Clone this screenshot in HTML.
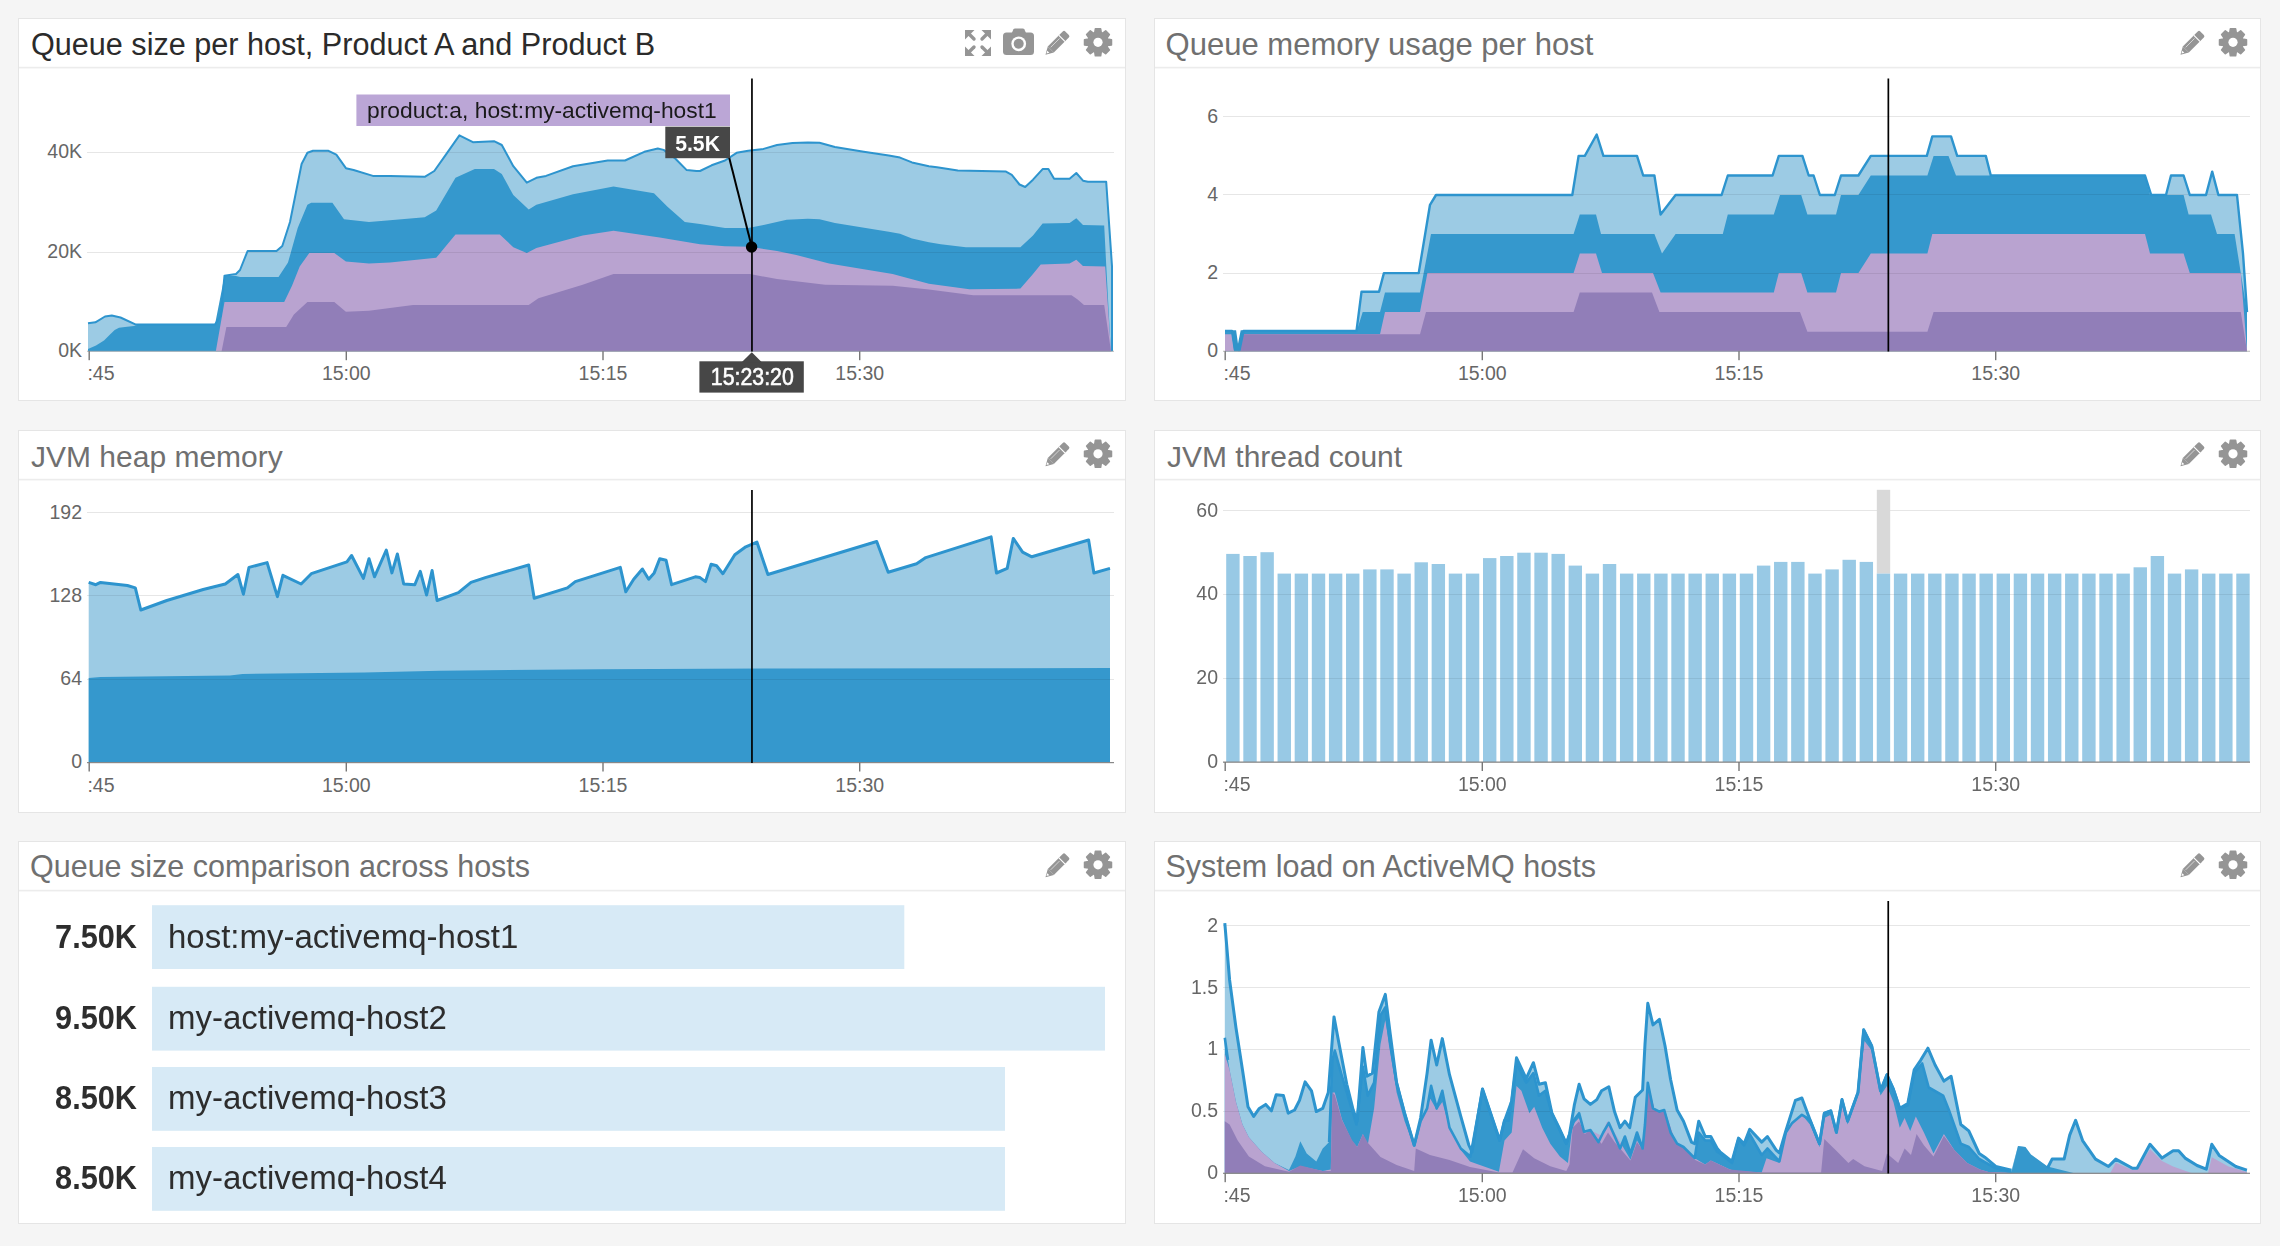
<!DOCTYPE html><html><head><meta charset="utf-8"><title>Dashboard</title><style>html,body{margin:0;padding:0;background:#f5f5f5}body{width:2280px;height:1246px;overflow:hidden;position:relative}svg{position:absolute;left:0;top:0;display:block}text{font-family:"Liberation Sans", sans-serif}</style></head><body>
<svg width="2280" height="1246" viewBox="0 0 2280 1246">
<defs>
<g id="gear"><path d="M-3.26,-9.46 L-2.61,-13.45 L2.61,-13.45 L3.26,-9.46 L4.38,-8.99 L7.66,-11.36 L11.36,-7.66 L8.99,-4.38 L9.46,-3.26 L13.45,-2.61 L13.45,2.61 L9.46,3.26 L8.99,4.38 L11.36,7.66 L7.66,11.36 L4.38,8.99 L3.26,9.46 L2.61,13.45 L-2.61,13.45 L-3.26,9.46 L-4.38,8.99 L-7.66,11.36 L-11.36,7.66 L-8.99,4.38 L-9.46,3.26 L-13.45,2.61 L-13.45,-2.61 L-9.46,-3.26 L-8.99,-4.38 L-11.36,-7.66 L-7.66,-11.36 L-4.38,-8.99 Z" fill="#959595" stroke="#959595" stroke-width="1.6" stroke-linejoin="round"/><circle cx="0" cy="0" r="10.6" fill="#959595"/><circle cx="0" cy="0" r="4.6" fill="#fff"/></g>
<g id="pencil"><g transform="rotate(-45)"><polygon points="0,0 7.5,-4.3 7.5,4.3" fill="#959595"/><rect x="7.5" y="-4.3" width="15.5" height="8.6" fill="#959595"/><rect x="24" y="-4.3" width="6.5" height="8.6" rx="1.8" fill="#959595"/><rect x="22.5" y="-4.3" width="3" height="8.6" fill="#959595"/><line x1="23.2" y1="-4.6" x2="23.2" y2="4.6" stroke="#fff" stroke-width="1.1"/><line x1="9" y1="-1.6" x2="21.5" y2="-1.6" stroke="#fff" stroke-width="0.7" opacity="0.8"/><polygon points="1.6,-0.2 4.2,-1.7 4.2,1.2" fill="#fff"/></g></g>
<g id="camera"><path d="M8.6,5 L10.3,1.2 Q10.8,0.1 12.2,0.1 L19.6,0.1 Q21,0.1 21.5,1.2 L23.2,5 Z" fill="#959595"/><rect x="0" y="4" width="31" height="22.6" rx="3.5" fill="#959595"/><circle cx="15.7" cy="15.4" r="7.4" fill="#fff"/><circle cx="15.7" cy="15.4" r="5" fill="#959595"/></g>
<g id="expand"><polygon points="0,0 9.5,0 0,9.5" fill="#959595"/><line x1="4" y1="4" x2="9" y2="9" stroke="#959595" stroke-width="3.4" stroke-linecap="round"/><polygon points="26,0 16.5,0 26,9.5" fill="#959595"/><line x1="22" y1="4" x2="17" y2="9" stroke="#959595" stroke-width="3.4" stroke-linecap="round"/><polygon points="0,26 9.5,26 0,16.5" fill="#959595"/><line x1="4" y1="22" x2="9" y2="17" stroke="#959595" stroke-width="3.4" stroke-linecap="round"/><polygon points="26,26 16.5,26 26,16.5" fill="#959595"/><line x1="22" y1="22" x2="17" y2="17" stroke="#959595" stroke-width="3.4" stroke-linecap="round"/></g>
</defs>
<rect x="18.5" y="18.5" width="1107" height="382" fill="#fff" stroke="#e5e5e5" stroke-width="1"/>
<rect x="19" y="66.8" width="1106" height="1.6" fill="#ececec"/>
<text x="31" y="55" font-size="30.6" fill="#2b2b2b">Queue size per host, Product A and Product B</text>
<rect x="1154.5" y="18.5" width="1106" height="382" fill="#fff" stroke="#e5e5e5" stroke-width="1"/>
<rect x="1155" y="66.8" width="1105" height="1.6" fill="#ececec"/>
<text x="1165.5" y="55" font-size="31.05" fill="#707070">Queue memory usage per host</text>
<rect x="18.5" y="430.5" width="1107" height="382" fill="#fff" stroke="#e5e5e5" stroke-width="1"/>
<rect x="19" y="478.8" width="1106" height="1.6" fill="#ececec"/>
<text x="31" y="466.5" font-size="30.0" fill="#707070">JVM heap memory</text>
<rect x="1154.5" y="430.5" width="1106" height="382" fill="#fff" stroke="#e5e5e5" stroke-width="1"/>
<rect x="1155" y="478.8" width="1105" height="1.6" fill="#ececec"/>
<text x="1167" y="466.5" font-size="30.0" fill="#707070">JVM thread count</text>
<rect x="18.5" y="841.5" width="1107" height="382" fill="#fff" stroke="#e5e5e5" stroke-width="1"/>
<rect x="19" y="889.8" width="1106" height="1.6" fill="#ececec"/>
<text x="30" y="877.2" font-size="30.5" fill="#707070">Queue size comparison across hosts</text>
<rect x="1154.5" y="841.5" width="1106" height="382" fill="#fff" stroke="#e5e5e5" stroke-width="1"/>
<rect x="1155" y="889.8" width="1105" height="1.6" fill="#ececec"/>
<text x="1165.5" y="877.2" font-size="30.5" fill="#707070">System load on ActiveMQ hosts</text>
<use href="#expand" x="965" y="30"/><use href="#camera" x="1003" y="28.4"/><use href="#pencil" x="1045.5" y="54.8"/><use href="#gear" x="1098" y="42.3"/>
<use href="#pencil" x="2180.5" y="54.8"/><use href="#gear" x="2233" y="42.3"/>
<use href="#pencil" x="1045.5" y="466.3"/><use href="#gear" x="1098" y="453.8"/>
<use href="#pencil" x="2180.5" y="466.3"/><use href="#gear" x="2233" y="453.8"/>
<use href="#pencil" x="1045.5" y="877.3"/><use href="#gear" x="1098" y="864.8"/>
<use href="#pencil" x="2180.5" y="877.3"/><use href="#gear" x="2233" y="864.8"/>
<rect x="87" y="152" width="1027" height="1" fill="#e6e6e6"/><rect x="87" y="252" width="1027" height="1" fill="#e6e6e6"/>
<polygon points="88.0,323.3 95.4,322.3 105.0,316.5 111.8,315.6 120.5,317.5 135.9,324.6 214.9,324.6 220.7,316.0 224.5,275.7 236.0,274.0 240.0,270.0 247.6,251.0 276.5,251.0 282.3,246.0 290.0,222.0 295.8,193.0 301.6,164.0 307.4,152.8 313.0,150.8 328.5,150.8 336.3,154.7 345.9,168.2 353.6,170.0 372.9,175.9 390.0,175.9 424.7,176.8 434.3,171.0 445.9,154.7 459.4,135.4 472.9,142.2 494.0,141.2 501.8,145.0 513.3,166.2 526.8,182.6 536.4,177.8 546.0,175.9 573.0,166.2 607.7,160.5 625.0,160.5 644.3,151.8 657.8,148.5 663.6,149.9 675.2,158.5 686.7,170.1 696.4,171.0 700.0,171.0 711.6,165.3 725.0,160.5 736.6,152.8 748.2,150.8 763.6,148.9 777.0,145.0 792.5,143.1 807.9,142.5 819.5,142.7 834.9,147.0 863.8,151.8 888.8,155.6 900.0,157.6 912.0,162.4 928.9,166.2 937.0,167.2 957.8,170.5 1006.0,171.6 1011.8,174.9 1019.5,184.5 1025.2,187.0 1033.0,179.7 1042.6,169.1 1048.4,169.1 1054.1,178.8 1069.6,178.8 1076.3,173.0 1083.0,180.7 1087.9,181.7 1106.2,181.7 1112.0,266.4 1112.0,351.2 1112.0,351.2 88.0,351.2" fill="#9ccbe4" />
<polygon points="88.0,349.0 96.0,345.5 104.0,340.5 110.0,334.5 114.7,330.0 119.0,327.8 125.0,327.0 134.0,326.0 137.0,325.0 214.9,325.0 224.5,276.0 236.0,276.0 240.0,277.0 278.5,277.0 288.0,262.6 297.7,228.0 307.4,204.8 311.2,202.8 332.4,202.8 344.0,219.2 369.0,222.0 390.0,220.2 424.7,217.3 436.2,210.6 455.5,177.8 474.8,169.1 494.0,169.1 501.8,174.0 513.3,195.1 528.7,209.6 536.4,204.8 573.0,194.2 613.5,186.5 654.0,193.2 667.5,206.7 684.8,222.1 700.0,224.0 725.0,227.9 748.2,227.9 763.6,225.0 786.7,219.8 807.9,218.7 819.5,219.2 834.9,223.1 888.8,231.8 900.0,233.7 912.0,238.5 928.9,242.3 940.8,244.3 965.9,247.2 1020.4,247.2 1033.0,235.6 1042.6,223.5 1069.6,223.1 1076.3,218.3 1083.0,225.0 1104.2,225.6 1106.3,266.4 1110.8,351.2 1110.8,351.2 88.0,351.2" fill="#3598cd" />
<polygon points="88.0,351.2 215.8,351.2 224.5,302.0 284.2,302.0 292.0,285.7 299.7,266.4 309.3,253.0 334.3,253.0 345.9,261.6 369.0,263.5 390.0,262.6 436.2,257.8 455.5,234.6 499.8,234.6 513.3,247.2 526.8,253.0 536.4,248.1 582.7,235.6 613.5,230.8 659.7,237.5 700.0,244.3 725.0,246.2 750.0,246.8 777.0,251.0 796.3,254.9 829.1,263.5 863.8,269.3 892.7,274.1 900.0,276.0 928.9,283.8 969.4,289.2 1020.4,288.6 1033.0,274.1 1040.7,264.5 1069.6,263.5 1076.3,259.7 1083.0,266.0 1105.2,266.4 1111.0,351.2 1111.0,351.2 88.0,351.2" fill="#b9a3d0" />
<polygon points="88.0,351.2 221.6,351.2 226.4,327.0 286.2,327.0 293.9,314.6 307.4,302.0 334.3,302.0 345.9,311.7 369.0,310.7 390.0,307.9 413.1,305.0 528.7,305.0 538.4,298.2 582.7,284.7 613.5,274.1 750.0,274.1 777.0,279.0 825.2,284.7 892.7,285.7 928.9,289.6 973.2,295.3 1071.5,295.3 1077.3,299.2 1084.0,305.0 1104.2,305.0 1111.0,351.2 1111.0,351.2 88.0,351.2" fill="#917eb8" />
<clipPath id="c1"><polygon points="88.0,323.3 95.4,322.3 105.0,316.5 111.8,315.6 120.5,317.5 135.9,324.6 214.9,324.6 220.7,316.0 224.5,275.7 236.0,274.0 240.0,270.0 247.6,251.0 276.5,251.0 282.3,246.0 290.0,222.0 295.8,193.0 301.6,164.0 307.4,152.8 313.0,150.8 328.5,150.8 336.3,154.7 345.9,168.2 353.6,170.0 372.9,175.9 390.0,175.9 424.7,176.8 434.3,171.0 445.9,154.7 459.4,135.4 472.9,142.2 494.0,141.2 501.8,145.0 513.3,166.2 526.8,182.6 536.4,177.8 546.0,175.9 573.0,166.2 607.7,160.5 625.0,160.5 644.3,151.8 657.8,148.5 663.6,149.9 675.2,158.5 686.7,170.1 696.4,171.0 700.0,171.0 711.6,165.3 725.0,160.5 736.6,152.8 748.2,150.8 763.6,148.9 777.0,145.0 792.5,143.1 807.9,142.5 819.5,142.7 834.9,147.0 863.8,151.8 888.8,155.6 900.0,157.6 912.0,162.4 928.9,166.2 937.0,167.2 957.8,170.5 1006.0,171.6 1011.8,174.9 1019.5,184.5 1025.2,187.0 1033.0,179.7 1042.6,169.1 1048.4,169.1 1054.1,178.8 1069.6,178.8 1076.3,173.0 1083.0,180.7 1087.9,181.7 1106.2,181.7 1112.0,266.4 1112.0,351.2 1112.0,351.2 88.0,351.2"/></clipPath>
<g clip-path="url(#c1)"><rect x="88" y="152" width="1025" height="1" fill="#000" opacity="0.075"/><rect x="88" y="252" width="1025" height="1" fill="#000" opacity="0.075"/></g>
<polyline points="88.0,323.3 95.4,322.3 105.0,316.5 111.8,315.6 120.5,317.5 135.9,324.6 214.9,324.6 220.7,316.0 224.5,275.7 236.0,274.0 240.0,270.0 247.6,251.0 276.5,251.0 282.3,246.0 290.0,222.0 295.8,193.0 301.6,164.0 307.4,152.8 313.0,150.8 328.5,150.8 336.3,154.7 345.9,168.2 353.6,170.0 372.9,175.9 390.0,175.9 424.7,176.8 434.3,171.0 445.9,154.7 459.4,135.4 472.9,142.2 494.0,141.2 501.8,145.0 513.3,166.2 526.8,182.6 536.4,177.8 546.0,175.9 573.0,166.2 607.7,160.5 625.0,160.5 644.3,151.8 657.8,148.5 663.6,149.9 675.2,158.5 686.7,170.1 696.4,171.0 700.0,171.0 711.6,165.3 725.0,160.5 736.6,152.8 748.2,150.8 763.6,148.9 777.0,145.0 792.5,143.1 807.9,142.5 819.5,142.7 834.9,147.0 863.8,151.8 888.8,155.6 900.0,157.6 912.0,162.4 928.9,166.2 937.0,167.2 957.8,170.5 1006.0,171.6 1011.8,174.9 1019.5,184.5 1025.2,187.0 1033.0,179.7 1042.6,169.1 1048.4,169.1 1054.1,178.8 1069.6,178.8 1076.3,173.0 1083.0,180.7 1087.9,181.7 1106.2,181.7 1112.0,266.4 1112.0,351.2" fill="none" stroke="#2d94ce" stroke-width="2" stroke-linejoin="round"/>
<rect x="87" y="350.7" width="1027" height="1.2" fill="#999" opacity="0.6"/>
<text x="82" y="158.4" font-size="19.5" fill="#666666" text-anchor="end">40K</text><text x="82" y="257.9" font-size="19.5" fill="#666666" text-anchor="end">20K</text><text x="82" y="357.1" font-size="19.5" fill="#666666" text-anchor="end">0K</text>
<rect x="88.5" y="351.2" width="1.4" height="9" fill="#777"/><text x="87.4" y="380.2" font-size="19.5" fill="#666666">:45</text><rect x="345.6" y="351.2" width="1.4" height="9" fill="#777"/><text x="346.3" y="380.2" font-size="19.5" fill="#666666" text-anchor="middle">15:00</text><rect x="602.3" y="351.2" width="1.4" height="9" fill="#777"/><text x="603.0" y="380.2" font-size="19.5" fill="#666666" text-anchor="middle">15:15</text><rect x="859.0" y="351.2" width="1.4" height="9" fill="#777"/><text x="859.7" y="380.2" font-size="19.5" fill="#666666" text-anchor="middle">15:30</text>
<rect x="1223" y="273" width="1027" height="1" fill="#e6e6e6"/><rect x="1223" y="194" width="1027" height="1" fill="#e6e6e6"/><rect x="1223" y="116" width="1027" height="1" fill="#e6e6e6"/>
<polygon points="1225.0,330.9 1232.0,330.9 1235.0,350.0 1239.5,350.0 1243.5,330.9 1356.5,330.9 1361.5,291.8 1379.0,291.8 1383.9,273.1 1418.7,273.1 1430.0,204.8 1436.0,195.0 1572.3,195.0 1578.6,155.9 1584.8,155.9 1596.7,134.5 1603.4,155.9 1637.0,155.9 1643.2,175.5 1654.4,175.5 1660.6,214.5 1675.6,195.0 1721.6,195.0 1727.8,175.5 1772.6,175.5 1778.8,155.9 1802.4,155.9 1808.7,175.5 1813.6,175.5 1819.9,195.0 1834.8,195.0 1841.0,175.5 1858.4,175.5 1870.8,155.9 1926.8,155.9 1932.3,136.4 1951.0,136.4 1957.2,155.9 1985.8,155.9 1990.8,175.5 2145.0,175.5 2151.2,195.0 2166.0,195.0 2171.0,175.5 2183.6,175.5 2189.8,195.0 2206.0,195.0 2212.2,171.6 2218.4,195.0 2237.0,195.0 2243.0,253.6 2247.0,312.1 2247.0,351.2 1225.0,351.2" fill="#9ccbe4" />
<polygon points="1225.0,331.7 1232.0,331.7 1234.5,351.2 1240.0,351.2 1243.5,331.7 1356.5,331.7 1362.7,312.1 1380.0,312.1 1385.0,292.6 1420.0,292.6 1431.0,234.1 1573.6,234.1 1579.8,214.5 1596.0,214.5 1601.0,234.1 1654.4,234.1 1662.0,253.6 1675.6,234.1 1722.8,234.1 1727.8,214.5 1773.8,214.5 1780.0,195.0 1801.2,195.0 1807.4,214.5 1836.0,214.5 1841.0,195.0 1858.4,195.0 1870.8,175.5 1927.4,175.5 1933.6,155.9 1948.5,155.9 1956.0,175.5 2145.0,175.5 2150.0,195.0 2183.6,195.0 2188.6,214.5 2211.0,214.5 2217.0,234.1 2234.6,234.1 2247.0,312.1 2247.0,351.2 1225.0,351.2" fill="#3598cd" />
<polygon points="1225.0,334.2 1232.0,334.2 1234.5,351.2 1240.0,351.2 1243.0,334.2 1380.0,334.2 1385.0,312.1 1420.0,312.1 1427.4,273.1 1573.6,273.1 1579.8,253.6 1596.0,253.6 1602.0,273.1 1653.0,273.1 1660.6,292.6 1773.8,292.6 1778.8,273.1 1801.2,273.1 1807.4,292.6 1836.0,292.6 1841.0,273.1 1858.4,273.1 1870.8,253.6 1927.4,253.6 1932.3,234.1 2145.0,234.1 2150.0,253.6 2183.6,253.6 2189.8,273.1 2240.8,273.1 2247.0,351.2 2247.0,351.2 1225.0,351.2" fill="#b9a3d0" />
<polygon points="1225.0,351.2 1236.0,351.2 1238.0,351.2 1243.0,334.2 1420.0,334.2 1426.0,312.1 1573.6,312.1 1579.8,292.6 1652.0,292.6 1659.4,312.1 1800.0,312.1 1807.4,331.7 1927.4,331.7 1933.6,312.1 2240.8,312.1 2247.0,351.2 2247.0,351.2 1225.0,351.2" fill="#917eb8" />
<clipPath id="c2"><polygon points="1225.0,330.9 1232.0,330.9 1235.0,350.0 1239.5,350.0 1243.5,330.9 1356.5,330.9 1361.5,291.8 1379.0,291.8 1383.9,273.1 1418.7,273.1 1430.0,204.8 1436.0,195.0 1572.3,195.0 1578.6,155.9 1584.8,155.9 1596.7,134.5 1603.4,155.9 1637.0,155.9 1643.2,175.5 1654.4,175.5 1660.6,214.5 1675.6,195.0 1721.6,195.0 1727.8,175.5 1772.6,175.5 1778.8,155.9 1802.4,155.9 1808.7,175.5 1813.6,175.5 1819.9,195.0 1834.8,195.0 1841.0,175.5 1858.4,175.5 1870.8,155.9 1926.8,155.9 1932.3,136.4 1951.0,136.4 1957.2,155.9 1985.8,155.9 1990.8,175.5 2145.0,175.5 2151.2,195.0 2166.0,195.0 2171.0,175.5 2183.6,175.5 2189.8,195.0 2206.0,195.0 2212.2,171.6 2218.4,195.0 2237.0,195.0 2243.0,253.6 2247.0,312.1 2247.0,351.2 1225.0,351.2"/></clipPath>
<g clip-path="url(#c2)"><rect x="1224" y="273" width="1025" height="1" fill="#000" opacity="0.075"/><rect x="1224" y="194" width="1025" height="1" fill="#000" opacity="0.075"/><rect x="1224" y="116" width="1025" height="1" fill="#000" opacity="0.075"/></g>
<polyline points="1225.0,330.9 1232.0,330.9 1235.0,350.0 1239.5,350.0 1243.5,330.9 1356.5,330.9 1361.5,291.8 1379.0,291.8 1383.9,273.1 1418.7,273.1 1430.0,204.8 1436.0,195.0 1572.3,195.0 1578.6,155.9 1584.8,155.9 1596.7,134.5 1603.4,155.9 1637.0,155.9 1643.2,175.5 1654.4,175.5 1660.6,214.5 1675.6,195.0 1721.6,195.0 1727.8,175.5 1772.6,175.5 1778.8,155.9 1802.4,155.9 1808.7,175.5 1813.6,175.5 1819.9,195.0 1834.8,195.0 1841.0,175.5 1858.4,175.5 1870.8,155.9 1926.8,155.9 1932.3,136.4 1951.0,136.4 1957.2,155.9 1985.8,155.9 1990.8,175.5 2145.0,175.5 2151.2,195.0 2166.0,195.0 2171.0,175.5 2183.6,175.5 2189.8,195.0 2206.0,195.0 2212.2,171.6 2218.4,195.0 2237.0,195.0 2243.0,253.6 2247.0,312.1" fill="none" stroke="#2d94ce" stroke-width="2.4" stroke-linejoin="round"/>
<rect x="1235.5" y="328" width="6" height="4" fill="#fff"/>
<path d="M1231.5,330.2 L1243.3,330.2 L1240.1,351.2 L1234.1,351.2 Z M1236.1,330.2 L1238,343.8 L1240.7,330.2 Z" fill="#2f94ca" fill-rule="evenodd"/>
<rect x="1223" y="350.7" width="1027" height="1.2" fill="#999" opacity="0.6"/>
<text x="1218" y="122.8" font-size="19.5" fill="#666666" text-anchor="end">6</text><text x="1218" y="200.9" font-size="19.5" fill="#666666" text-anchor="end">4</text><text x="1218" y="279.0" font-size="19.5" fill="#666666" text-anchor="end">2</text><text x="1218" y="357.1" font-size="19.5" fill="#666666" text-anchor="end">0</text>
<rect x="1224.5" y="351.2" width="1.4" height="9" fill="#777"/><text x="1223.4" y="380.2" font-size="19.5" fill="#666666">:45</text><rect x="1481.6" y="351.2" width="1.4" height="9" fill="#777"/><text x="1482.3" y="380.2" font-size="19.5" fill="#666666" text-anchor="middle">15:00</text><rect x="1738.3" y="351.2" width="1.4" height="9" fill="#777"/><text x="1739.0" y="380.2" font-size="19.5" fill="#666666" text-anchor="middle">15:15</text><rect x="1995.0" y="351.2" width="1.4" height="9" fill="#777"/><text x="1995.7" y="380.2" font-size="19.5" fill="#666666" text-anchor="middle">15:30</text>
<rect x="87" y="679" width="1027" height="1" fill="#e6e6e6"/><rect x="87" y="595" width="1027" height="1" fill="#e6e6e6"/><rect x="87" y="512" width="1027" height="1" fill="#e6e6e6"/>
<polygon points="88.7,582.4 95.8,584.7 100.5,582.4 127.4,585.5 135.3,587.9 140.8,610.0 166.8,600.5 203.2,589.5 225.3,584.0 237.9,574.5 243.4,594.2 249.0,567.4 267.1,562.6 277.4,596.6 282.9,575.3 301.1,584.0 311.3,573.7 346.9,561.8 351.6,555.5 363.4,578.4 369.0,558.7 374.5,576.8 386.3,550.0 391.9,572.9 397.4,554.0 403.7,584.0 414.8,584.7 420.3,571.3 426.6,595.0 432.1,570.5 437.1,600.5 458.4,592.6 471.0,582.4 485.3,577.6 528.7,565.0 534.2,598.2 567.4,587.9 575.3,581.6 620.3,567.4 625.8,591.8 633.7,579.2 642.4,569.0 648.7,579.2 654.2,572.9 659.7,558.7 666.1,560.3 671.6,584.7 695.3,576.8 700.0,577.6 705.5,581.6 711.1,564.2 716.6,565.8 722.9,573.7 734.8,554.7 745.8,546.8 756.9,542.1 767.9,574.5 876.7,541.5 888.2,572.2 916.6,563.8 925.8,557.6 991.1,536.9 996.5,573.0 1007.2,568.4 1013.3,538.4 1022.6,552.2 1031.8,556.8 1088.6,540.0 1093.9,573.0 1110.0,568.4 1110.0,762.5 88.7,762.5" fill="#9ccbe4" />
<polygon points="88.7,677.9 100.5,677.1 230.0,675.5 242.6,674.0 364.2,672.4 440.0,670.8 600.0,669.2 790.0,668.4 1110.0,668.1 1110.0,762.5 88.7,762.5" fill="#3598cd" />
<clipPath id="c3"><polygon points="88.7,582.4 95.8,584.7 100.5,582.4 127.4,585.5 135.3,587.9 140.8,610.0 166.8,600.5 203.2,589.5 225.3,584.0 237.9,574.5 243.4,594.2 249.0,567.4 267.1,562.6 277.4,596.6 282.9,575.3 301.1,584.0 311.3,573.7 346.9,561.8 351.6,555.5 363.4,578.4 369.0,558.7 374.5,576.8 386.3,550.0 391.9,572.9 397.4,554.0 403.7,584.0 414.8,584.7 420.3,571.3 426.6,595.0 432.1,570.5 437.1,600.5 458.4,592.6 471.0,582.4 485.3,577.6 528.7,565.0 534.2,598.2 567.4,587.9 575.3,581.6 620.3,567.4 625.8,591.8 633.7,579.2 642.4,569.0 648.7,579.2 654.2,572.9 659.7,558.7 666.1,560.3 671.6,584.7 695.3,576.8 700.0,577.6 705.5,581.6 711.1,564.2 716.6,565.8 722.9,573.7 734.8,554.7 745.8,546.8 756.9,542.1 767.9,574.5 876.7,541.5 888.2,572.2 916.6,563.8 925.8,557.6 991.1,536.9 996.5,573.0 1007.2,568.4 1013.3,538.4 1022.6,552.2 1031.8,556.8 1088.6,540.0 1093.9,573.0 1110.0,568.4 1110.0,762.5 88.7,762.5"/></clipPath>
<g clip-path="url(#c3)"><rect x="88" y="679" width="1025" height="1" fill="#000" opacity="0.075"/><rect x="88" y="595" width="1025" height="1" fill="#000" opacity="0.075"/><rect x="88" y="512" width="1025" height="1" fill="#000" opacity="0.075"/></g>
<polyline points="88.7,582.4 95.8,584.7 100.5,582.4 127.4,585.5 135.3,587.9 140.8,610.0 166.8,600.5 203.2,589.5 225.3,584.0 237.9,574.5 243.4,594.2 249.0,567.4 267.1,562.6 277.4,596.6 282.9,575.3 301.1,584.0 311.3,573.7 346.9,561.8 351.6,555.5 363.4,578.4 369.0,558.7 374.5,576.8 386.3,550.0 391.9,572.9 397.4,554.0 403.7,584.0 414.8,584.7 420.3,571.3 426.6,595.0 432.1,570.5 437.1,600.5 458.4,592.6 471.0,582.4 485.3,577.6 528.7,565.0 534.2,598.2 567.4,587.9 575.3,581.6 620.3,567.4 625.8,591.8 633.7,579.2 642.4,569.0 648.7,579.2 654.2,572.9 659.7,558.7 666.1,560.3 671.6,584.7 695.3,576.8 700.0,577.6 705.5,581.6 711.1,564.2 716.6,565.8 722.9,573.7 734.8,554.7 745.8,546.8 756.9,542.1 767.9,574.5 876.7,541.5 888.2,572.2 916.6,563.8 925.8,557.6 991.1,536.9 996.5,573.0 1007.2,568.4 1013.3,538.4 1022.6,552.2 1031.8,556.8 1088.6,540.0 1093.9,573.0 1110.0,568.4" fill="none" stroke="#2d94ce" stroke-width="3" stroke-linejoin="round"/>
<rect x="87" y="762.0" width="1027" height="1.2" fill="#888"/>
<text x="82" y="518.5" font-size="19.5" fill="#666666" text-anchor="end">192</text><text x="82" y="601.8" font-size="19.5" fill="#666666" text-anchor="end">128</text><text x="82" y="685.1" font-size="19.5" fill="#666666" text-anchor="end">64</text><text x="82" y="768.4" font-size="19.5" fill="#666666" text-anchor="end">0</text>
<rect x="88.5" y="762.5" width="1.4" height="9" fill="#777"/><text x="87.4" y="791.5" font-size="19.5" fill="#666666">:45</text><rect x="345.6" y="762.5" width="1.4" height="9" fill="#777"/><text x="346.3" y="791.5" font-size="19.5" fill="#666666" text-anchor="middle">15:00</text><rect x="602.3" y="762.5" width="1.4" height="9" fill="#777"/><text x="603.0" y="791.5" font-size="19.5" fill="#666666" text-anchor="middle">15:15</text><rect x="859.0" y="762.5" width="1.4" height="9" fill="#777"/><text x="859.7" y="791.5" font-size="19.5" fill="#666666" text-anchor="middle">15:30</text>
<rect x="1223" y="678" width="1027" height="1" fill="#e6e6e6"/><rect x="1223" y="594" width="1027" height="1" fill="#e6e6e6"/><rect x="1223" y="510" width="1027" height="1" fill="#e6e6e6"/>
<rect x="1876.8" y="489.8" width="13.4" height="83.8" fill="#d9d9d9"/>
<rect x="1226.20" y="553.9" width="13.4" height="208.1" fill="#98c9e5"/>
<rect x="1243.32" y="556.0" width="13.4" height="206.0" fill="#98c9e5"/>
<rect x="1260.44" y="552.2" width="13.4" height="209.8" fill="#98c9e5"/>
<rect x="1277.56" y="573.6" width="13.4" height="188.4" fill="#98c9e5"/>
<rect x="1294.68" y="573.6" width="13.4" height="188.4" fill="#98c9e5"/>
<rect x="1311.80" y="573.6" width="13.4" height="188.4" fill="#98c9e5"/>
<rect x="1328.92" y="573.6" width="13.4" height="188.4" fill="#98c9e5"/>
<rect x="1346.04" y="573.6" width="13.4" height="188.4" fill="#98c9e5"/>
<rect x="1363.16" y="569.4" width="13.4" height="192.6" fill="#98c9e5"/>
<rect x="1380.28" y="569.4" width="13.4" height="192.6" fill="#98c9e5"/>
<rect x="1397.40" y="573.6" width="13.4" height="188.4" fill="#98c9e5"/>
<rect x="1414.52" y="562.3" width="13.4" height="199.7" fill="#98c9e5"/>
<rect x="1431.64" y="564.0" width="13.4" height="198.0" fill="#98c9e5"/>
<rect x="1448.76" y="573.6" width="13.4" height="188.4" fill="#98c9e5"/>
<rect x="1465.88" y="573.6" width="13.4" height="188.4" fill="#98c9e5"/>
<rect x="1483.00" y="558.1" width="13.4" height="203.9" fill="#98c9e5"/>
<rect x="1500.12" y="556.0" width="13.4" height="206.0" fill="#98c9e5"/>
<rect x="1517.24" y="552.7" width="13.4" height="209.3" fill="#98c9e5"/>
<rect x="1534.36" y="552.7" width="13.4" height="209.3" fill="#98c9e5"/>
<rect x="1551.48" y="553.9" width="13.4" height="208.1" fill="#98c9e5"/>
<rect x="1568.60" y="565.6" width="13.4" height="196.4" fill="#98c9e5"/>
<rect x="1585.72" y="573.6" width="13.4" height="188.4" fill="#98c9e5"/>
<rect x="1602.84" y="564.0" width="13.4" height="198.0" fill="#98c9e5"/>
<rect x="1619.96" y="573.6" width="13.4" height="188.4" fill="#98c9e5"/>
<rect x="1637.08" y="573.6" width="13.4" height="188.4" fill="#98c9e5"/>
<rect x="1654.20" y="573.6" width="13.4" height="188.4" fill="#98c9e5"/>
<rect x="1671.32" y="573.6" width="13.4" height="188.4" fill="#98c9e5"/>
<rect x="1688.44" y="573.6" width="13.4" height="188.4" fill="#98c9e5"/>
<rect x="1705.56" y="573.6" width="13.4" height="188.4" fill="#98c9e5"/>
<rect x="1722.68" y="573.6" width="13.4" height="188.4" fill="#98c9e5"/>
<rect x="1739.80" y="573.6" width="13.4" height="188.4" fill="#98c9e5"/>
<rect x="1756.92" y="565.6" width="13.4" height="196.4" fill="#98c9e5"/>
<rect x="1774.04" y="561.9" width="13.4" height="200.1" fill="#98c9e5"/>
<rect x="1791.16" y="561.9" width="13.4" height="200.1" fill="#98c9e5"/>
<rect x="1808.28" y="573.6" width="13.4" height="188.4" fill="#98c9e5"/>
<rect x="1825.40" y="569.4" width="13.4" height="192.6" fill="#98c9e5"/>
<rect x="1842.52" y="559.8" width="13.4" height="202.2" fill="#98c9e5"/>
<rect x="1859.64" y="561.9" width="13.4" height="200.1" fill="#98c9e5"/>
<rect x="1876.76" y="573.6" width="13.4" height="188.4" fill="#98c9e5"/>
<rect x="1893.88" y="573.6" width="13.4" height="188.4" fill="#98c9e5"/>
<rect x="1911.00" y="573.6" width="13.4" height="188.4" fill="#98c9e5"/>
<rect x="1928.12" y="573.6" width="13.4" height="188.4" fill="#98c9e5"/>
<rect x="1945.24" y="573.6" width="13.4" height="188.4" fill="#98c9e5"/>
<rect x="1962.36" y="573.6" width="13.4" height="188.4" fill="#98c9e5"/>
<rect x="1979.48" y="573.6" width="13.4" height="188.4" fill="#98c9e5"/>
<rect x="1996.60" y="573.6" width="13.4" height="188.4" fill="#98c9e5"/>
<rect x="2013.72" y="573.6" width="13.4" height="188.4" fill="#98c9e5"/>
<rect x="2030.84" y="573.6" width="13.4" height="188.4" fill="#98c9e5"/>
<rect x="2047.96" y="573.6" width="13.4" height="188.4" fill="#98c9e5"/>
<rect x="2065.08" y="573.6" width="13.4" height="188.4" fill="#98c9e5"/>
<rect x="2082.20" y="573.6" width="13.4" height="188.4" fill="#98c9e5"/>
<rect x="2099.32" y="573.6" width="13.4" height="188.4" fill="#98c9e5"/>
<rect x="2116.44" y="573.6" width="13.4" height="188.4" fill="#98c9e5"/>
<rect x="2133.56" y="567.3" width="13.4" height="194.7" fill="#98c9e5"/>
<rect x="2150.68" y="556.0" width="13.4" height="206.0" fill="#98c9e5"/>
<rect x="2167.80" y="573.6" width="13.4" height="188.4" fill="#98c9e5"/>
<rect x="2184.92" y="569.4" width="13.4" height="192.6" fill="#98c9e5"/>
<rect x="2202.04" y="573.6" width="13.4" height="188.4" fill="#98c9e5"/>
<rect x="2219.16" y="573.6" width="13.4" height="188.4" fill="#98c9e5"/>
<rect x="2236.28" y="573.6" width="13.4" height="188.4" fill="#98c9e5"/>
<clipPath id="c4"><rect x="1226.20" y="553.9" width="13.4" height="208.1"/><rect x="1243.32" y="556.0" width="13.4" height="206.0"/><rect x="1260.44" y="552.2" width="13.4" height="209.8"/><rect x="1277.56" y="573.6" width="13.4" height="188.4"/><rect x="1294.68" y="573.6" width="13.4" height="188.4"/><rect x="1311.80" y="573.6" width="13.4" height="188.4"/><rect x="1328.92" y="573.6" width="13.4" height="188.4"/><rect x="1346.04" y="573.6" width="13.4" height="188.4"/><rect x="1363.16" y="569.4" width="13.4" height="192.6"/><rect x="1380.28" y="569.4" width="13.4" height="192.6"/><rect x="1397.40" y="573.6" width="13.4" height="188.4"/><rect x="1414.52" y="562.3" width="13.4" height="199.7"/><rect x="1431.64" y="564.0" width="13.4" height="198.0"/><rect x="1448.76" y="573.6" width="13.4" height="188.4"/><rect x="1465.88" y="573.6" width="13.4" height="188.4"/><rect x="1483.00" y="558.1" width="13.4" height="203.9"/><rect x="1500.12" y="556.0" width="13.4" height="206.0"/><rect x="1517.24" y="552.7" width="13.4" height="209.3"/><rect x="1534.36" y="552.7" width="13.4" height="209.3"/><rect x="1551.48" y="553.9" width="13.4" height="208.1"/><rect x="1568.60" y="565.6" width="13.4" height="196.4"/><rect x="1585.72" y="573.6" width="13.4" height="188.4"/><rect x="1602.84" y="564.0" width="13.4" height="198.0"/><rect x="1619.96" y="573.6" width="13.4" height="188.4"/><rect x="1637.08" y="573.6" width="13.4" height="188.4"/><rect x="1654.20" y="573.6" width="13.4" height="188.4"/><rect x="1671.32" y="573.6" width="13.4" height="188.4"/><rect x="1688.44" y="573.6" width="13.4" height="188.4"/><rect x="1705.56" y="573.6" width="13.4" height="188.4"/><rect x="1722.68" y="573.6" width="13.4" height="188.4"/><rect x="1739.80" y="573.6" width="13.4" height="188.4"/><rect x="1756.92" y="565.6" width="13.4" height="196.4"/><rect x="1774.04" y="561.9" width="13.4" height="200.1"/><rect x="1791.16" y="561.9" width="13.4" height="200.1"/><rect x="1808.28" y="573.6" width="13.4" height="188.4"/><rect x="1825.40" y="569.4" width="13.4" height="192.6"/><rect x="1842.52" y="559.8" width="13.4" height="202.2"/><rect x="1859.64" y="561.9" width="13.4" height="200.1"/><rect x="1876.76" y="573.6" width="13.4" height="188.4"/><rect x="1893.88" y="573.6" width="13.4" height="188.4"/><rect x="1911.00" y="573.6" width="13.4" height="188.4"/><rect x="1928.12" y="573.6" width="13.4" height="188.4"/><rect x="1945.24" y="573.6" width="13.4" height="188.4"/><rect x="1962.36" y="573.6" width="13.4" height="188.4"/><rect x="1979.48" y="573.6" width="13.4" height="188.4"/><rect x="1996.60" y="573.6" width="13.4" height="188.4"/><rect x="2013.72" y="573.6" width="13.4" height="188.4"/><rect x="2030.84" y="573.6" width="13.4" height="188.4"/><rect x="2047.96" y="573.6" width="13.4" height="188.4"/><rect x="2065.08" y="573.6" width="13.4" height="188.4"/><rect x="2082.20" y="573.6" width="13.4" height="188.4"/><rect x="2099.32" y="573.6" width="13.4" height="188.4"/><rect x="2116.44" y="573.6" width="13.4" height="188.4"/><rect x="2133.56" y="567.3" width="13.4" height="194.7"/><rect x="2150.68" y="556.0" width="13.4" height="206.0"/><rect x="2167.80" y="573.6" width="13.4" height="188.4"/><rect x="2184.92" y="569.4" width="13.4" height="192.6"/><rect x="2202.04" y="573.6" width="13.4" height="188.4"/><rect x="2219.16" y="573.6" width="13.4" height="188.4"/><rect x="2236.28" y="573.6" width="13.4" height="188.4"/></clipPath>
<g clip-path="url(#c4)"><rect x="1224" y="678" width="1025" height="1" fill="#000" opacity="0.075"/><rect x="1224" y="594" width="1025" height="1" fill="#000" opacity="0.075"/><rect x="1224" y="510" width="1025" height="1" fill="#000" opacity="0.075"/></g>
<rect x="1223" y="761.5" width="1027" height="1.3" fill="#888"/>
<text x="1218" y="516.7" font-size="19.5" fill="#666666" text-anchor="end">60</text><text x="1218" y="600.4" font-size="19.5" fill="#666666" text-anchor="end">40</text><text x="1218" y="684.2" font-size="19.5" fill="#666666" text-anchor="end">20</text><text x="1218" y="767.9" font-size="19.5" fill="#666666" text-anchor="end">0</text>
<rect x="1224.5" y="762.0" width="1.4" height="9" fill="#777"/><text x="1223.4" y="791.0" font-size="19.5" fill="#666666">:45</text><rect x="1481.6" y="762.0" width="1.4" height="9" fill="#777"/><text x="1482.3" y="791.0" font-size="19.5" fill="#666666" text-anchor="middle">15:00</text><rect x="1738.3" y="762.0" width="1.4" height="9" fill="#777"/><text x="1739.0" y="791.0" font-size="19.5" fill="#666666" text-anchor="middle">15:15</text><rect x="1995.0" y="762.0" width="1.4" height="9" fill="#777"/><text x="1995.7" y="791.0" font-size="19.5" fill="#666666" text-anchor="middle">15:30</text>
<rect x="152" y="905.2" width="752.3" height="63.8" fill="#d7eaf6"/>
<text x="137" y="947.5" font-size="32.8" font-weight="bold" fill="#2d2d2d" text-anchor="end" textLength="81.9" lengthAdjust="spacingAndGlyphs">7.50K</text>
<text x="168" y="947.5" font-size="33" fill="#2d2d2d">host:my-activemq-host1</text>
<rect x="152" y="986.8" width="953.0" height="63.8" fill="#d7eaf6"/>
<text x="137" y="1029.1" font-size="32.8" font-weight="bold" fill="#2d2d2d" text-anchor="end" textLength="81.9" lengthAdjust="spacingAndGlyphs">9.50K</text>
<text x="168" y="1029.1" font-size="33" fill="#2d2d2d">my-activemq-host2</text>
<rect x="152" y="1067.0" width="853.0" height="63.8" fill="#d7eaf6"/>
<text x="137" y="1109.3" font-size="32.8" font-weight="bold" fill="#2d2d2d" text-anchor="end" textLength="81.9" lengthAdjust="spacingAndGlyphs">8.50K</text>
<text x="168" y="1109.3" font-size="33" fill="#2d2d2d">my-activemq-host3</text>
<rect x="152" y="1147.0" width="853.0" height="63.8" fill="#d7eaf6"/>
<text x="137" y="1189.3" font-size="32.8" font-weight="bold" fill="#2d2d2d" text-anchor="end" textLength="81.9" lengthAdjust="spacingAndGlyphs">8.50K</text>
<text x="168" y="1189.3" font-size="33" fill="#2d2d2d">my-activemq-host4</text>
<rect x="1223" y="1111" width="1027" height="1" fill="#e6e6e6"/><rect x="1223" y="1049" width="1027" height="1" fill="#e6e6e6"/><rect x="1223" y="987" width="1027" height="1" fill="#e6e6e6"/><rect x="1223" y="925" width="1027" height="1" fill="#e6e6e6"/>
<polygon points="1224.8,923.1 1229.6,980.0 1236.0,1028.0 1242.5,1070.0 1248.0,1106.8 1253.7,1116.4 1259.3,1108.4 1265.7,1104.4 1271.4,1110.8 1276.2,1094.8 1283.4,1095.6 1288.2,1113.2 1294.6,1110.0 1299.5,1100.4 1305.1,1081.9 1311.5,1090.8 1316.3,1111.6 1322.7,1108.4 1328.3,1092.4 1334.0,1016.9 1338.8,1042.6 1346.8,1084.3 1353.2,1110.0 1357.2,1121.2 1362.9,1047.4 1366.9,1076.3 1372.5,1073.1 1378.9,1012.1 1385.3,994.4 1390.1,1033.0 1396.6,1082.7 1404.6,1113.2 1414.2,1145.3 1420.6,1118.0 1427.1,1073.1 1431.1,1040.2 1436.7,1065.0 1442.3,1038.6 1449.5,1074.7 1460.8,1116.4 1468.8,1145.0 1472.0,1152.0 1482.5,1089.0 1499.7,1140.5 1504.5,1120.4 1508.5,1120.4 1511.7,1100.4 1516.5,1057.8 1526.2,1078.7 1533.4,1062.7 1539.0,1084.3 1545.4,1082.7 1551.9,1113.2 1558.3,1126.1 1566.3,1143.7 1569.5,1134.1 1574.3,1105.2 1579.1,1084.3 1584.0,1098.8 1590.4,1104.4 1596.8,1099.6 1601.6,1090.8 1608.8,1086.7 1614.5,1111.6 1620.1,1127.7 1624.9,1121.2 1629.7,1127.7 1635.3,1097.2 1642.6,1090.0 1645.0,1044.2 1647.8,1003.3 1653.0,1024.9 1659.4,1019.3 1665.0,1045.8 1670.6,1079.5 1677.1,1110.0 1683.5,1121.2 1691.5,1142.1 1694.7,1143.7 1698.7,1121.2 1705.2,1136.5 1710.8,1136.5 1717.2,1148.5 1720.0,1151.8 1732.0,1161.4 1738.5,1138.1 1744.1,1143.7 1749.7,1129.3 1761.7,1142.1 1767.4,1136.5 1776.2,1150.1 1779.4,1153.0 1785.8,1130.9 1795.4,1100.4 1801.9,1098.0 1809.9,1119.6 1819.5,1143.7 1824.3,1113.2 1830.8,1110.8 1836.4,1132.5 1842.0,1099.6 1847.6,1121.2 1858.0,1092.4 1863.7,1029.8 1871.7,1045.8 1880.5,1090.8 1886.9,1074.7 1893.4,1089.1 1899.8,1108.4 1907.8,1103.6 1914.2,1069.9 1920.6,1060.3 1927.9,1048.2 1935.1,1065.0 1943.9,1081.1 1951.1,1076.3 1960.8,1124.5 1968.8,1130.9 1979.2,1153.5 1984.8,1157.2 1995.8,1166.5 2011.5,1170.1 2018.0,1146.1 2025.4,1147.0 2030.9,1154.5 2047.5,1166.5 2052.1,1159.1 2064.1,1159.1 2069.7,1135.1 2075.6,1120.3 2082.6,1140.6 2095.5,1159.1 2108.5,1166.5 2115.8,1159.1 2132.5,1168.3 2137.1,1168.3 2150.0,1144.3 2162.0,1158.1 2173.1,1150.8 2178.6,1150.8 2185.1,1158.1 2197.1,1165.5 2206.3,1169.2 2211.8,1144.3 2219.2,1155.4 2235.8,1166.5 2246.9,1170.1 2246.9,1173.2 1224.8,1173.2" fill="#9ccbe4" />
<polygon points="1224.8,1037.8 1226.4,1049.0 1228.0,1060.0 1229.6,1069.9 1236.0,1102.0 1242.5,1124.5 1248.9,1137.3 1261.7,1151.8 1274.6,1163.0 1289.0,1170.0 1295.4,1156.6 1300.3,1141.3 1306.7,1153.4 1316.3,1161.4 1322.7,1148.5 1329.1,1142.1 1332.4,1060.3 1334.8,1050.6 1342.0,1076.3 1356.4,1124.5 1362.9,1066.7 1367.7,1095.6 1374.1,1082.7 1380.5,1015.3 1385.3,1007.3 1390.1,1044.2 1396.6,1082.7 1404.6,1113.2 1414.2,1145.3 1420.6,1121.2 1427.1,1108.4 1431.1,1085.9 1436.7,1108.4 1442.3,1090.8 1449.5,1127.7 1460.8,1148.5 1470.4,1156.6 1482.5,1089.1 1499.7,1140.5 1504.5,1120.4 1511.7,1100.4 1516.5,1063.5 1526.2,1082.7 1533.4,1073.1 1539.0,1095.6 1545.4,1090.8 1551.9,1113.2 1566.3,1143.7 1574.3,1119.6 1579.1,1113.2 1584.0,1131.7 1590.4,1130.0 1598.4,1142.1 1603.2,1132.5 1608.8,1122.9 1620.1,1148.5 1624.9,1136.5 1630.5,1153.4 1637.0,1132.5 1642.6,1148.5 1645.0,1124.5 1647.8,1082.7 1653.0,1108.4 1659.4,1111.6 1664.2,1110.0 1670.6,1132.5 1677.1,1143.7 1683.5,1147.0 1694.7,1158.2 1698.7,1132.5 1705.2,1140.5 1710.8,1140.5 1717.2,1151.8 1720.0,1153.4 1732.0,1163.0 1738.5,1138.9 1744.1,1145.3 1749.7,1134.1 1761.7,1155.0 1767.4,1148.5 1779.4,1161.4 1785.8,1132.5 1792.2,1122.9 1801.9,1114.8 1809.9,1119.6 1819.5,1143.7 1824.3,1113.2 1830.8,1110.8 1836.4,1132.5 1842.0,1099.6 1847.6,1121.2 1858.0,1092.4 1863.7,1029.8 1871.7,1045.8 1880.5,1090.8 1886.9,1074.7 1893.4,1089.1 1899.8,1108.4 1907.8,1105.2 1914.2,1073.1 1922.2,1063.5 1928.7,1087.5 1943.1,1095.6 1949.5,1111.6 1960.8,1143.7 1968.8,1147.0 1979.2,1159.0 1995.8,1168.3 2011.5,1172.0 2018.0,1146.1 2025.4,1147.0 2030.9,1154.5 2047.5,1166.5 2073.4,1173.0 2247.0,1173.0 2247.0,1173.2 1224.8,1173.2" fill="#3598cd" />
<polygon points="1224.8,1053.8 1229.6,1069.9 1236.0,1102.0 1242.5,1124.5 1248.9,1137.3 1261.7,1151.8 1274.6,1163.0 1289.0,1171.0 1300.3,1166.2 1322.7,1171.0 1330.8,1169.5 1332.4,1092.4 1334.8,1092.4 1342.0,1119.6 1351.6,1140.5 1357.2,1146.9 1362.9,1134.1 1367.7,1145.3 1374.1,1108.4 1380.5,1044.2 1385.3,1020.1 1390.1,1050.6 1396.6,1092.4 1404.6,1121.2 1414.2,1146.9 1420.6,1121.2 1430.3,1098.8 1436.7,1110.0 1442.3,1102.0 1449.5,1127.7 1460.8,1150.1 1470.0,1161.4 1498.9,1171.8 1504.5,1140.5 1511.7,1132.5 1516.5,1085.9 1521.4,1090.8 1529.4,1113.2 1534.2,1106.8 1542.2,1127.7 1550.3,1143.7 1559.9,1156.6 1567.9,1163.0 1572.7,1124.5 1579.1,1118.0 1584.8,1132.5 1592.0,1130.9 1601.6,1135.7 1607.2,1121.2 1614.5,1132.5 1630.5,1159.8 1637.0,1140.5 1642.6,1150.1 1647.8,1082.7 1654.6,1108.4 1661.0,1111.6 1665.0,1110.0 1675.5,1142.1 1683.5,1147.0 1694.7,1158.2 1705.2,1164.6 1710.8,1160.6 1730.0,1169.5 1736.0,1171.0 1761.7,1172.6 1766.5,1158.2 1779.4,1163.0 1785.8,1134.1 1792.2,1122.9 1801.9,1114.8 1809.9,1124.5 1819.5,1146.9 1824.3,1118.0 1830.8,1114.8 1836.4,1134.1 1842.0,1105.2 1847.6,1124.5 1858.0,1095.6 1864.5,1041.0 1871.7,1050.6 1880.5,1095.6 1886.9,1085.9 1893.4,1102.0 1899.8,1127.7 1904.6,1118.0 1910.2,1130.9 1915.8,1116.4 1923.9,1132.5 1933.5,1153.4 1943.9,1134.1 1954.3,1150.1 1967.2,1163.0 1980.0,1169.5 1988.5,1172.0 2011.5,1173.0 2110.3,1173.0 2115.8,1162.8 2132.5,1170.1 2137.1,1170.1 2150.0,1148.9 2162.0,1160.9 2173.1,1166.5 2191.5,1172.9 2208.1,1172.9 2211.8,1157.2 2228.5,1166.5 2246.9,1172.0 2246.9,1173.2 1224.8,1173.2" fill="#b9a3d0" />
<polygon points="1224.8,1121.2 1229.6,1124.5 1237.7,1140.5 1248.9,1156.6 1264.9,1166.2 1289.0,1171.8 1300.3,1165.4 1322.7,1171.0 1330.8,1171.0 1332.4,1092.4 1334.8,1095.0 1342.0,1120.0 1352.0,1140.0 1357.2,1147.0 1362.9,1134.0 1368.0,1143.0 1380.5,1157.0 1396.6,1165.0 1414.2,1171.0 1415.8,1148.5 1430.0,1155.0 1449.5,1160.0 1470.0,1167.0 1498.9,1172.6 1512.5,1172.6 1523.0,1149.3 1534.2,1158.2 1550.3,1166.2 1566.3,1171.0 1569.5,1164.6 1572.7,1127.7 1579.1,1121.2 1584.8,1134.1 1590.4,1130.0 1601.6,1143.7 1608.0,1132.5 1614.5,1142.1 1630.5,1160.6 1637.0,1142.1 1642.6,1150.1 1647.8,1082.7 1654.6,1110.0 1665.0,1110.8 1675.5,1143.0 1683.5,1147.0 1694.7,1159.8 1705.2,1164.6 1710.8,1160.6 1730.0,1169.5 1761.7,1172.6 1821.1,1172.6 1824.3,1138.9 1835.6,1150.1 1848.4,1163.0 1853.2,1159.0 1864.5,1166.2 1882.1,1171.0 1886.9,1153.4 1898.2,1163.0 1904.6,1148.5 1911.0,1155.0 1916.6,1134.1 1923.9,1145.3 1933.5,1156.6 1943.9,1135.7 1954.3,1150.1 1967.2,1163.0 1980.0,1169.5 1988.5,1172.0 2011.5,1173.0 2247.0,1173.0 2247.0,1173.2 1224.8,1173.2" fill="#917eb8" />
<clipPath id="c6"><polygon points="1224.8,923.1 1229.6,980.0 1236.0,1028.0 1242.5,1070.0 1248.0,1106.8 1253.7,1116.4 1259.3,1108.4 1265.7,1104.4 1271.4,1110.8 1276.2,1094.8 1283.4,1095.6 1288.2,1113.2 1294.6,1110.0 1299.5,1100.4 1305.1,1081.9 1311.5,1090.8 1316.3,1111.6 1322.7,1108.4 1328.3,1092.4 1334.0,1016.9 1338.8,1042.6 1346.8,1084.3 1353.2,1110.0 1357.2,1121.2 1362.9,1047.4 1366.9,1076.3 1372.5,1073.1 1378.9,1012.1 1385.3,994.4 1390.1,1033.0 1396.6,1082.7 1404.6,1113.2 1414.2,1145.3 1420.6,1118.0 1427.1,1073.1 1431.1,1040.2 1436.7,1065.0 1442.3,1038.6 1449.5,1074.7 1460.8,1116.4 1468.8,1145.0 1472.0,1152.0 1482.5,1089.0 1499.7,1140.5 1504.5,1120.4 1508.5,1120.4 1511.7,1100.4 1516.5,1057.8 1526.2,1078.7 1533.4,1062.7 1539.0,1084.3 1545.4,1082.7 1551.9,1113.2 1558.3,1126.1 1566.3,1143.7 1569.5,1134.1 1574.3,1105.2 1579.1,1084.3 1584.0,1098.8 1590.4,1104.4 1596.8,1099.6 1601.6,1090.8 1608.8,1086.7 1614.5,1111.6 1620.1,1127.7 1624.9,1121.2 1629.7,1127.7 1635.3,1097.2 1642.6,1090.0 1645.0,1044.2 1647.8,1003.3 1653.0,1024.9 1659.4,1019.3 1665.0,1045.8 1670.6,1079.5 1677.1,1110.0 1683.5,1121.2 1691.5,1142.1 1694.7,1143.7 1698.7,1121.2 1705.2,1136.5 1710.8,1136.5 1717.2,1148.5 1720.0,1151.8 1732.0,1161.4 1738.5,1138.1 1744.1,1143.7 1749.7,1129.3 1761.7,1142.1 1767.4,1136.5 1776.2,1150.1 1779.4,1153.0 1785.8,1130.9 1795.4,1100.4 1801.9,1098.0 1809.9,1119.6 1819.5,1143.7 1824.3,1113.2 1830.8,1110.8 1836.4,1132.5 1842.0,1099.6 1847.6,1121.2 1858.0,1092.4 1863.7,1029.8 1871.7,1045.8 1880.5,1090.8 1886.9,1074.7 1893.4,1089.1 1899.8,1108.4 1907.8,1103.6 1914.2,1069.9 1920.6,1060.3 1927.9,1048.2 1935.1,1065.0 1943.9,1081.1 1951.1,1076.3 1960.8,1124.5 1968.8,1130.9 1979.2,1153.5 1984.8,1157.2 1995.8,1166.5 2011.5,1170.1 2018.0,1146.1 2025.4,1147.0 2030.9,1154.5 2047.5,1166.5 2052.1,1159.1 2064.1,1159.1 2069.7,1135.1 2075.6,1120.3 2082.6,1140.6 2095.5,1159.1 2108.5,1166.5 2115.8,1159.1 2132.5,1168.3 2137.1,1168.3 2150.0,1144.3 2162.0,1158.1 2173.1,1150.8 2178.6,1150.8 2185.1,1158.1 2197.1,1165.5 2206.3,1169.2 2211.8,1144.3 2219.2,1155.4 2235.8,1166.5 2246.9,1170.1 2246.9,1173.2 1224.8,1173.2"/></clipPath>
<g clip-path="url(#c6)"><rect x="1224" y="1111" width="1025" height="1" fill="#000" opacity="0.075"/><rect x="1224" y="1049" width="1025" height="1" fill="#000" opacity="0.075"/><rect x="1224" y="987" width="1025" height="1" fill="#000" opacity="0.075"/><rect x="1224" y="925" width="1025" height="1" fill="#000" opacity="0.075"/></g>
<polyline points="1224.8,1037.8 1226.4,1049.0 1228.0,1060.0" fill="none" stroke="#2d94ce" stroke-width="2.6" stroke-linejoin="round"/>
<polyline points="1329.1,1142.1 1332.4,1060.3 1334.8,1050.6 1342.0,1076.3 1356.4,1124.5 1362.9,1066.7 1367.7,1095.6 1374.1,1082.7 1380.5,1015.3 1385.3,1007.3 1390.1,1044.2 1396.6,1082.7 1404.6,1113.2 1414.2,1145.3 1420.6,1121.2 1427.1,1108.4 1431.1,1085.9 1436.7,1108.4 1442.3,1090.8 1449.5,1127.7 1460.8,1148.5 1470.4,1156.6 1482.5,1089.1 1499.7,1140.5 1504.5,1120.4 1511.7,1100.4 1516.5,1063.5 1526.2,1082.7 1533.4,1073.1 1539.0,1095.6 1545.4,1090.8 1551.9,1113.2 1566.3,1143.7 1574.3,1119.6 1579.1,1113.2 1584.0,1131.7 1590.4,1130.0 1598.4,1142.1 1603.2,1132.5 1608.8,1122.9 1620.1,1148.5 1624.9,1136.5 1630.5,1153.4 1637.0,1132.5 1642.6,1148.5 1645.0,1124.5 1647.8,1082.7 1653.0,1108.4 1659.4,1111.6 1664.2,1110.0 1670.6,1132.5 1677.1,1143.7 1683.5,1147.0 1694.7,1158.2 1698.7,1132.5 1705.2,1140.5 1710.8,1140.5 1717.2,1151.8 1720.0,1153.4 1732.0,1163.0 1738.5,1138.9 1744.1,1145.3 1749.7,1134.1 1761.7,1155.0 1767.4,1148.5 1779.4,1161.4 1785.8,1132.5 1792.2,1122.9 1801.9,1114.8 1809.9,1119.6 1819.5,1143.7 1824.3,1113.2 1830.8,1110.8 1836.4,1132.5 1842.0,1099.6 1847.6,1121.2 1858.0,1092.4 1863.7,1029.8 1871.7,1045.8 1880.5,1090.8 1886.9,1074.7 1893.4,1089.1 1899.8,1108.4 1907.8,1105.2 1914.2,1073.1 1922.2,1063.5 1928.7,1087.5 1943.1,1095.6 1949.5,1111.6 1960.8,1143.7 1968.8,1147.0 1979.2,1159.0 1995.8,1168.3 2011.5,1172.0" fill="none" stroke="#2d94ce" stroke-width="2.6" stroke-linejoin="round"/>
<polyline points="1224.8,923.1 1229.6,980.0 1236.0,1028.0 1242.5,1070.0 1248.0,1106.8 1253.7,1116.4 1259.3,1108.4 1265.7,1104.4 1271.4,1110.8 1276.2,1094.8 1283.4,1095.6 1288.2,1113.2 1294.6,1110.0 1299.5,1100.4 1305.1,1081.9 1311.5,1090.8 1316.3,1111.6 1322.7,1108.4 1328.3,1092.4 1334.0,1016.9 1338.8,1042.6 1346.8,1084.3 1353.2,1110.0 1357.2,1121.2 1362.9,1047.4 1366.9,1076.3 1372.5,1073.1 1378.9,1012.1 1385.3,994.4 1390.1,1033.0 1396.6,1082.7 1404.6,1113.2 1414.2,1145.3 1420.6,1118.0 1427.1,1073.1 1431.1,1040.2 1436.7,1065.0 1442.3,1038.6 1449.5,1074.7 1460.8,1116.4 1468.8,1145.0 1472.0,1152.0 1482.5,1089.0 1499.7,1140.5 1504.5,1120.4 1508.5,1120.4 1511.7,1100.4 1516.5,1057.8 1526.2,1078.7 1533.4,1062.7 1539.0,1084.3 1545.4,1082.7 1551.9,1113.2 1558.3,1126.1 1566.3,1143.7 1569.5,1134.1 1574.3,1105.2 1579.1,1084.3 1584.0,1098.8 1590.4,1104.4 1596.8,1099.6 1601.6,1090.8 1608.8,1086.7 1614.5,1111.6 1620.1,1127.7 1624.9,1121.2 1629.7,1127.7 1635.3,1097.2 1642.6,1090.0 1645.0,1044.2 1647.8,1003.3 1653.0,1024.9 1659.4,1019.3 1665.0,1045.8 1670.6,1079.5 1677.1,1110.0 1683.5,1121.2 1691.5,1142.1 1694.7,1143.7 1698.7,1121.2 1705.2,1136.5 1710.8,1136.5 1717.2,1148.5 1720.0,1151.8 1732.0,1161.4 1738.5,1138.1 1744.1,1143.7 1749.7,1129.3 1761.7,1142.1 1767.4,1136.5 1776.2,1150.1 1779.4,1153.0 1785.8,1130.9 1795.4,1100.4 1801.9,1098.0 1809.9,1119.6 1819.5,1143.7 1824.3,1113.2 1830.8,1110.8 1836.4,1132.5 1842.0,1099.6 1847.6,1121.2 1858.0,1092.4 1863.7,1029.8 1871.7,1045.8 1880.5,1090.8 1886.9,1074.7 1893.4,1089.1 1899.8,1108.4 1907.8,1103.6 1914.2,1069.9 1920.6,1060.3 1927.9,1048.2 1935.1,1065.0 1943.9,1081.1 1951.1,1076.3 1960.8,1124.5 1968.8,1130.9 1979.2,1153.5 1984.8,1157.2 1995.8,1166.5 2011.5,1170.1" fill="none" stroke="#2d94ce" stroke-width="3" stroke-linejoin="round"/>
<polyline points="2047.5,1168.0 2052.1,1159.1 2064.1,1159.1 2069.7,1135.1 2075.6,1120.3 2082.6,1140.6 2095.5,1159.1 2108.5,1166.5 2115.8,1159.1 2132.5,1168.3 2137.1,1168.3 2150.0,1144.3 2162.0,1158.1 2173.1,1150.8 2178.6,1150.8 2185.1,1158.1 2197.1,1165.5 2206.3,1169.2 2211.8,1144.3 2219.2,1155.4 2235.8,1166.5 2246.9,1170.1" fill="none" stroke="#2d94ce" stroke-width="3" stroke-linejoin="round"/>
<rect x="1223" y="1172.7" width="1027" height="1.2" fill="#888"/>
<text x="1218" y="931.6" font-size="19.5" fill="#666666" text-anchor="end">2</text><text x="1218" y="993.5" font-size="19.5" fill="#666666" text-anchor="end">1.5</text><text x="1218" y="1055.4" font-size="19.5" fill="#666666" text-anchor="end">1</text><text x="1218" y="1117.2" font-size="19.5" fill="#666666" text-anchor="end">0.5</text><text x="1218" y="1179.1" font-size="19.5" fill="#666666" text-anchor="end">0</text>
<rect x="1224.5" y="1173.2" width="1.4" height="9" fill="#777"/><text x="1223.4" y="1202.2" font-size="19.5" fill="#666666">:45</text><rect x="1481.6" y="1173.2" width="1.4" height="9" fill="#777"/><text x="1482.3" y="1202.2" font-size="19.5" fill="#666666" text-anchor="middle">15:00</text><rect x="1738.3" y="1173.2" width="1.4" height="9" fill="#777"/><text x="1739.0" y="1202.2" font-size="19.5" fill="#666666" text-anchor="middle">15:15</text><rect x="1995.0" y="1173.2" width="1.4" height="9" fill="#777"/><text x="1995.7" y="1202.2" font-size="19.5" fill="#666666" text-anchor="middle">15:30</text>
<rect x="751.1" y="78.5" width="1.7" height="273" fill="#000"/>
<rect x="1887.5" y="78.5" width="1.7" height="273" fill="#000"/>
<rect x="751.1" y="490" width="1.7" height="273" fill="#000"/>
<rect x="1887.4" y="901" width="1.7" height="272.5" fill="#000"/>
<line x1="728.9" y1="156.6" x2="751.8" y2="247" stroke="#000" stroke-width="2"/>
<circle cx="751.6" cy="247" r="5.7" fill="#000"/>
<rect x="356.4" y="94.5" width="373.6" height="31.5" fill="#bba6d6"/>
<text x="367" y="117.6" font-size="22.8" fill="#1a1a1a">product:a, host:my-activemq-host1</text>
<rect x="665.3" y="126.7" width="64.7" height="31.5" fill="#474747"/>
<text x="697.6" y="150.5" font-size="21.2" font-weight="bold" fill="#fff" text-anchor="middle">5.5K</text>
<rect x="699.4" y="361.3" width="104.4" height="31.3" fill="#474747"/>
<polygon points="741.4,362.5 751.8,352.2 762.1,362.5" fill="#474747"/>
<text x="752.3" y="384.7" font-size="23.5" fill="#fff" stroke="#fff" stroke-width="0.6" text-anchor="middle" textLength="83" lengthAdjust="spacingAndGlyphs">15:23:20</text>
</svg></body></html>
